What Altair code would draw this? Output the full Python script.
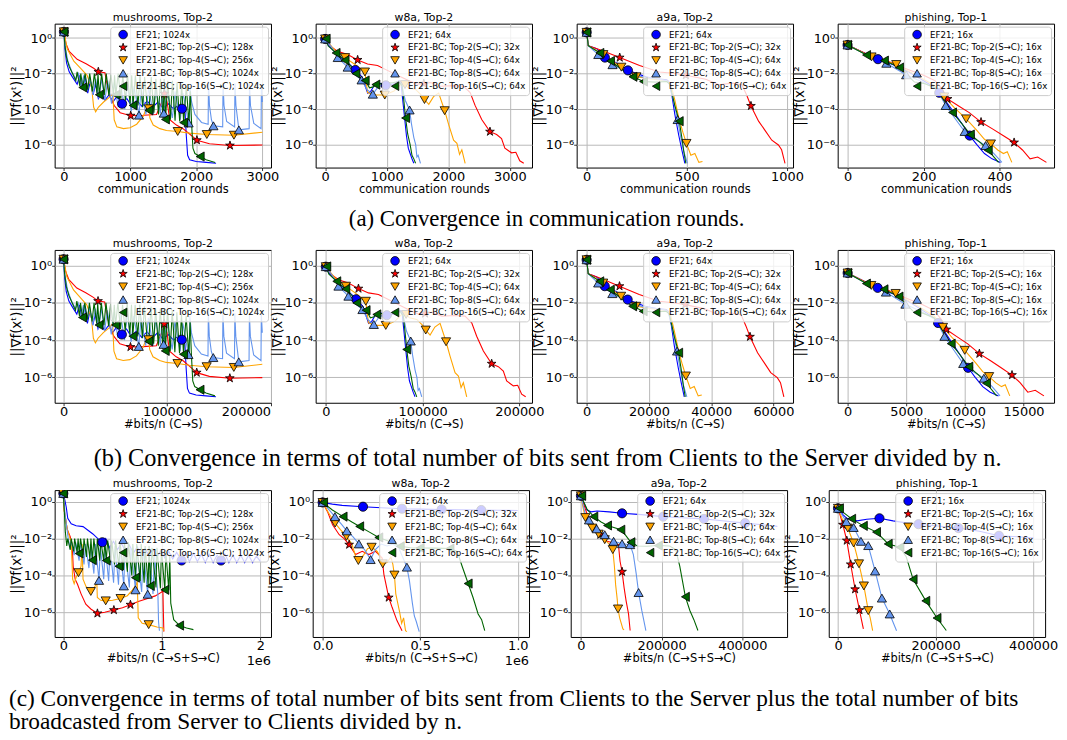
import altair as alt
import pandas as pd

# ------------------------------------------------------------------
# Values.  x = communication rounds (rows a, b)
# or #bits/n (row c); y = log10(||grad f(x^t)||^2)
# ------------------------------------------------------------------

# ---- mushrooms (rounds) ----
mush_ef21 = [(0, 0.35), (15, -0.6), (40, -1.4), (80, -1.9), (130, -2.2), (200, -2.6), (240, -2.1), (280, -2.9),
             (320, -2.2), (360, -3.1), (400, -2.4), (440, -3.2), (480, -2.6), (520, -3.4), (560, -3.1), (620, -3.5),
             (680, -3.2), (740, -3.6), (800, -3.3), (880, -3.7), (950, -3.4), (1020, -3.8), (1100, -3.5),
             (1180, -3.85), (1260, -3.55), (1340, -3.9), (1420, -3.6), (1500, -3.95), (1580, -3.7), (1660, -4.0),
             (1740, -3.75), (1785, -3.98), (1830, -4.1), (1850, -5.5), (1870, -6.6), (1900, -6.85), (2000, -6.95),
             (2150, -7.0), (2300, -7.05)]
mush_ef21_m = [(0, 0.35), (880, -3.7), (1785, -3.98)]
mush_t2 = [(0, 0.35), (30, -0.3), (80, -0.75), (200, -1.2), (335, -1.45), (450, -1.7), (520, -1.9), (620, -1.95),
           (650, -2.6), (700, -3.3), (760, -3.8), (850, -4.2), (1010, -4.37), (1200, -4.35), (1400, -4.3),
           (1480, -3.6), (1520, -3.13), (1560, -3.6), (1600, -4.6), (1700, -4.9), (1800, -5.1), (1900, -5.4),
           (2010, -5.75), (2200, -5.95), (2510, -6.05), (3000, -6.02)]
mush_t2_m = [(0, 0.35), (520, -1.9), (1010, -4.37), (1520, -3.13), (2010, -5.75), (2510, -6.05)]
mush_t4 = [(0, 0.35), (50, -0.6), (150, -1.3), (250, -1.7), (350, -2.1), (420, -2.8), (450, -3.9), (480, -4.15),
           (520, -3.9), (600, -3.6), (700, -3.3), (740, -3.1), (760, -4.6), (800, -5.0), (900, -5.1), (1000, -5.05),
           (1100, -4.85), (1200, -4.4), (1250, -3.9), (1285, -3.98), (1300, -4.5), (1350, -4.9), (1450, -5.1),
           (1550, -5.2), (1720, -5.26), (1900, -5.35), (2160, -5.43), (2570, -5.47), (3000, -5.3)]
mush_t4_m = [(0, 0.35), (1285, -3.98), (1720, -5.26), (2160, -5.43), (2570, -5.47)]
mush_t8 = [(0, 0.35), (20, -0.5), (60, -1.3), (120, -1.9), (180, -2.3), (220, -2.0), (260, -2.8), (300, -2.1),
           (350, -3.0), (390, -2.2), (440, -3.2), (480, -2.3), (530, -3.4), (570, -2.3), (620, -3.5), (660, -2.4),
           (720, -3.7), (760, -2.5), (820, -3.9), (860, -2.6), (920, -4.0), (960, -2.6), (1020, -4.1), (1060, -2.7),
           (1135, -4.34), (1170, -2.8), (1240, -4.3), (1280, -2.8), (1350, -4.3), (1390, -2.9), (1460, -4.25),
           (1480, -3.2), (1510, -4.23), (1560, -3.0), (1640, -4.5), (1680, -3.0), (1760, -4.6), (1800, -3.1),
           (1885, -4.78), (1900, -4.8), (1905, -2.7), (1930, -3.6), (1980, -4.3), (2080, -4.75), (2180, -4.85),
           (2185, -2.45), (2200, -3.8), (2230, -4.6), (2260, -4.94), (2400, -5.0), (2405, -2.5), (2420, -3.8),
           (2460, -4.7), (2580, -5.0), (2585, -2.55), (2600, -3.8), (2645, -5.17), (2800, -5.1), (2805, -2.6),
           (2820, -3.8), (2870, -4.8), (2980, -5.1), (2985, -2.6), (3000, -3.6)]
mush_t8_m = [(0, 0.35), (1135, -4.34), (1510, -4.23), (1885, -4.78), (2260, -4.94), (2645, -5.17)]
mush_t16 = [(0, 0.35), (15, -0.4), (40, -1.1), (80, -1.6), (130, -2.0), (180, -2.4), (200, -1.9), (240, -2.7),
            (255, -2.0), (285, -2.78), (320, -2.0), (360, -2.9), (390, -2.0), (430, -3.0), (460, -2.0), (500, -3.1),
            (515, -2.0), (535, -3.19), (570, -2.0), (610, -3.2), (640, -2.0), (680, -3.25), (710, -2.05),
            (750, -3.2), (765, -2.1), (785, -3.19), (820, -2.0), (860, -3.4), (890, -2.1), (930, -3.5), (960, -2.0),
            (1000, -3.7), (1025, -2.1), (1045, -3.79), (1080, -2.1), (1120, -3.8), (1150, -2.1), (1190, -3.9),
            (1220, -2.2), (1265, -4.07), (1285, -4.07), (1320, -2.2), (1360, -4.2), (1390, -2.3), (1430, -4.3),
            (1460, -2.3), (1500, -4.5), (1515, -2.3), (1535, -4.58), (1570, -2.4), (1610, -4.6), (1640, -2.4),
            (1680, -4.65), (1710, -2.5), (1750, -4.7), (1780, -2.6), (1810, -4.76), (1850, -2.7), (1890, -4.8),
            (1910, -3.0), (1930, -4.8), (1950, -6.2), (1980, -6.5), (2060, -6.67), (2150, -6.85), (2285, -7.0)]
mush_t16_m = [(0, 0.35), (285, -2.78), (535, -3.19), (785, -3.19), (1045, -3.79), (1285, -4.07), (1535, -4.58),
              (1810, -4.76), (2060, -6.67)]

# ---- w8a (rounds) ----
w8a_ef21 = [(0, -0.05), (50, -0.4), (150, -0.75), (250, -1.1), (350, -1.35), (420, -1.55), (520, -1.9),
            (600, -2.2), (650, -2.7), (690, -3.1), (740, -3.0), (790, -2.7), (850, -2.5), (985, -2.66),
            (1100, -2.6), (1200, -2.4), (1230, -2.5), (1260, -3.5), (1290, -4.5), (1320, -5.5), (1350, -6.2),
            (1380, -6.5), (1410, -6.8), (1440, -7.05)]
w8a_ef21_m = [(0, -0.05), (490, -1.8), (985, -2.66)]
w8a_t2 = [(0, -0.05), (100, -0.5), (204, -0.75), (365, -0.93), (527, -1.23), (688, -1.46), (850, -1.55),
          (1010, -1.82), (1225, -2.18), (1387, -2.45), (1500, -2.6), (1602, -2.57), (1710, -2.5), (1871, -2.71),
          (2086, -2.68), (2247, -2.71), (2355, -3.07), (2435, -3.79), (2543, -4.59), (2677, -5.27), (2785, -5.43),
          (2865, -5.66), (2919, -6.2), (3027, -6.46), (3097, -6.43), (3161, -6.91), (3226, -7.05)]
w8a_t2_m = [(0, -0.05), (527, -1.23), (1602, -2.57), (2677, -5.27)]
w8a_t4 = [(0, -0.05), (150, -0.66), (323, -1.1), (473, -1.46), (645, -1.91), (688, -3.07), (796, -3.21),
          (968, -3.21), (1118, -2.98), (1225, -2.62), (1296, -2.62), (1350, -2.8), (1468, -2.89), (1575, -3.25),
          (1613, -3.46), (1683, -3.73), (1760, -3.3), (1844, -3.1), (1941, -4.09), (2005, -4.86), (2086, -5.75),
          (2140, -5.93), (2183, -6.55), (2220, -6.29), (2274, -7.05)]
w8a_t4_m = [(0, -0.05), (323, -1.1), (645, -1.91), (968, -3.21), (1296, -2.62), (1613, -3.46), (1941, -4.09)]
w8a_t8 = [(0, -0.05), (100, -0.5), (204, -1.1), (365, -1.64), (500, -2.1), (591, -2.36), (680, -2.9),
          (774, -3.16), (850, -2.8), (950, -2.6), (1100, -2.55), (1200, -2.5), (1250, -2.7), (1300, -3.5),
          (1371, -4.05), (1400, -4.8), (1440, -5.6), (1470, -6.0), (1490, -6.7), (1510, -6.6), (1548, -7.05)]
w8a_t8_m = [(0, -0.05), (204, -1.1), (365, -1.64), (591, -2.36), (774, -3.16), (1371, -4.05)]
w8a_t16 = [(0, -0.05), (50, -0.45), (177, -0.84), (323, -1.25), (420, -1.6), (500, -2.0), (580, -2.25),
           (650, -2.39), (720, -2.8), (780, -2.75), (823, -2.62), (950, -2.55), (1107, -2.5), (1200, -2.45),
           (1250, -2.7), (1280, -3.6), (1306, -4.5), (1340, -5.4), (1380, -6.0), (1410, -6.6), (1440, -6.8),
           (1468, -7.05)]
w8a_t16_m = [(16, -0.04), (177, -0.84), (323, -1.25), (500, -2.0), (650, -2.39), (823, -2.62), (1306, -4.5)]

# ---- a9a (rounds) ----
a9a_ef21 = [(0, 0.32), (8, -0.43), (50, -0.6), (91, -1.1), (150, -1.4), (206, -1.82), (250, -2.0), (300, -2.2),
            (350, -2.3), (400, -2.35), (410, -2.45), (425, -3.2), (440, -4.3), (460, -5.5), (475, -6.3),
            (490, -7.05)]
a9a_ef21_m = [(0, 0.32), (91, -1.1), (206, -1.82)]
a9a_t2 = [(0, 0.32), (8, -0.43), (66, -0.66), (165, -1.1), (264, -1.55), (363, -1.91), (445, -2.0), (495, -2.09),
          (594, -2.32), (660, -2.63), (726, -2.54), (775, -2.63), (800, -3.25), (820, -3.82), (858, -4.68),
          (891, -5.21), (924, -5.75), (957, -6.02), (973, -6.29), (990, -7.05)]
a9a_t2_m = [(0, 0.32), (165, -1.1), (495, -2.09), (820, -3.82)]
a9a_t4 = [(0, 0.32), (8, -0.43), (83, -0.93), (173, -1.64), (248, -2.18), (320, -2.3), (400, -2.4), (420, -2.6),
          (440, -3.5), (460, -4.5), (480, -5.3), (498, -5.93), (520, -6.6), (540, -6.5), (560, -7.0), (578, -6.95)]
a9a_t4_m = [(0, 0.32), (83, -0.93), (173, -1.64), (248, -2.18), (498, -5.93)]
a9a_t8 = [(0, 0.32), (8, -0.43), (58, -0.93), (129, -1.5), (200, -1.9), (280, -2.2), (350, -2.3), (400, -2.4),
          (415, -2.6), (435, -3.6), (454, -4.59), (470, -5.6), (485, -6.4), (503, -7.05)]
a9a_t8_m = [(0, 0.32), (58, -0.93), (129, -1.5), (454, -4.59)]
a9a_t16 = [(0, 0.32), (8, -0.43), (66, -0.84), (119, -1.29), (180, -1.8), (231, -2.18), (284, -2.45),
           (343, -2.48), (400, -2.45), (415, -2.6), (440, -3.8), (462, -4.68), (475, -5.6), (485, -6.4),
           (495, -7.05)]
a9a_t16_m = [(0, 0.32), (66, -0.84), (119, -1.29), (231, -2.18), (284, -2.45), (462, -4.68)]

# ---- phishing (rounds) ----
ph_ef21 = [(0, -0.39), (40, -0.8), (80, -1.19), (120, -1.5), (160, -1.9), (200, -2.4), (230, -2.8), (241, -3.08),
           (260, -3.6), (280, -4.2), (300, -4.8), (321, -5.49), (340, -6.0), (360, -6.5), (380, -6.8), (402, -7.0)]
ph_ef21_m = [(0, -0.39), (80, -1.19), (241, -3.08), (321, -5.49)]
ph_t2 = [(0, -0.39), (50, -0.9), (100, -1.25), (150, -1.7), (200, -2.1), (230, -2.4), (250, -2.9), (263, -3.43),
         (290, -3.8), (320, -4.2), (351, -4.73), (380, -5.1), (410, -5.5), (438, -5.88), (460, -6.3), (480, -6.8),
         (500, -6.7), (523, -7.0)]
ph_t2_m = [(0, -0.39), (263, -3.43), (351, -4.73), (438, -5.88)]
ph_t4 = [(0, -0.39), (63, -1.06), (128, -1.49), (190, -2.2), (230, -2.7), (254, -3.31), (280, -3.9), (312, -4.55),
         (340, -5.2), (360, -5.7), (377, -5.96), (395, -6.3), (410, -6.5), (420, -6.4), (432, -7.0)]
ph_t4_m = [(0, -0.39), (63, -1.06), (128, -1.49), (254, -3.31), (312, -4.55), (377, -5.96)]
ph_t8 = [(0, -0.39), (50, -0.95), (102, -1.42), (154, -2.07), (200, -2.5), (235, -2.9), (258, -3.8), (285, -4.6),
         (308, -5.26), (335, -5.7), (363, -6.05), (385, -6.5), (406, -7.0)]
ph_t8_m = [(0, -0.39), (102, -1.42), (154, -2.07), (258, -3.8), (308, -5.26), (363, -6.05)]
ph_t16 = [(0, -0.39), (50, -0.96), (97, -1.27), (137, -1.66), (176, -2.48), (200, -2.55), (230, -2.8),
          (250, -3.4), (276, -4.19), (300, -4.8), (323, -5.43), (350, -5.9), (370, -6.32), (397, -7.0)]
ph_t16_m = [(0, -0.39), (50, -0.96), (97, -1.27), (137, -1.66), (276, -4.19), (323, -5.43), (370, -6.32)]

# bits sent per round from clients to server (row b)
BITS_MUSH, BITS_W8A, BITS_A9A, BITS_PH = 64, 64, 64, 32

# ---- row c: #bits/n (C->S + S->C) ----
mush3_ef21 = [(0, 0.45), (15e3, 0.1), (30e3, -0.3), (45e3, -0.9), (80e3, -1.2), (130e3, -1.3), (200e3, -1.35),
              (250e3, -1.55), (300e3, -1.75), (340e3, -1.95), (396e3, -2.2), (430e3, -2.0), (470e3, -2.5),
              (510e3, -2.15), (550e3, -2.6), (590e3, -2.25), (630e3, -2.7), (670e3, -2.35), (710e3, -2.8),
              (750e3, -2.45), (790e3, -2.9), (830e3, -2.55), (870e3, -2.95), (910e3, -2.6), (950e3, -3.0),
              (990e3, -2.65), (1030e3, -3.05), (1070e3, -2.7), (1110e3, -3.1), (1150e3, -2.75), (1200e3, -3.19),
              (1240e3, -2.8), (1280e3, -3.25), (1320e3, -2.8), (1360e3, -3.25), (1400e3, -2.85), (1440e3, -3.3),
              (1480e3, -2.85), (1520e3, -3.3), (1560e3, -2.9), (1600e3, -3.19), (1640e3, -2.85), (1680e3, -3.3),
              (1720e3, -2.9), (1760e3, -3.3), (1800e3, -2.9), (1840e3, -3.3), (1880e3, -2.9), (1920e3, -3.3),
              (1960e3, -2.95), (2000e3, -3.25)]
mush3_ef21_m = [(0, 0.45), (396e3, -2.2), (1200e3, -3.19), (1600e3, -3.19)]
mush3_t2 = [(0, 0.45), (10e3, -0.5), (40e3, -1.5), (70e3, -1.9), (90e3, -2.3), (100e3, -3.5), (120e3, -4.2),
            (144e3, -4.48), (180e3, -5.0), (228e3, -5.56), (279e3, -5.82), (346e3, -6.06), (420e3, -6.0),
            (513e3, -5.88), (600e3, -5.75), (681e3, -5.59), (760e3, -5.42), (832e3, -5.29), (933e3, -5.11),
            (1000e3, -4.9), (1010e3, -4.7), (1015e3, -6.0), (1020e3, -7.05)]
mush3_t2_m = [(0, 0.45), (346e3, -6.06), (513e3, -5.88), (681e3, -5.59)]
mush3_t4 = [(0, 0.45), (10e3, -0.5), (40e3, -1.5), (80e3, -2.2), (95e3, -4.2), (110e3, -4.45), (130e3, -4.1),
            (154e3, -3.85), (180e3, -3.5), (190e3, -2.3), (200e3, -4.2), (230e3, -4.6), (279e3, -4.87),
            (320e3, -4.6), (340e3, -4.4), (345e3, -5.2), (380e3, -5.35), (430e3, -5.38), (500e3, -5.35),
            (581e3, -5.25), (650e3, -5.1), (700e3, -4.8), (740e3, -4.5), (750e3, -4.3), (760e3, -6.3),
            (800e3, -6.6), (866e3, -6.67), (950e3, -6.8), (1010e3, -6.85), (1020e3, -7.0)]
mush3_t4_m = [(0, 0.45), (154e3, -3.85), (279e3, -4.87), (430e3, -5.38), (581e3, -5.25), (866e3, -6.67)]
mush3_t8 = [(0, 0.45), (20e3, -0.8), (50e3, -2.0), (70e3, -2.6), (80e3, -2.1), (110e3, -2.9), (125e3, -2.2),
            (160e3, -3.2), (175e3, -2.2), (210e3, -3.4), (225e3, -2.3), (260e3, -3.6), (275e3, -2.3),
            (310e3, -3.9), (325e3, -2.3), (362e3, -4.27), (375e3, -2.4), (410e3, -4.2), (425e3, -2.4),
            (460e3, -4.3), (475e3, -2.4), (510e3, -4.4), (525e3, -2.4), (560e3, -4.5), (575e3, -2.5),
            (614e3, -4.57), (625e3, -2.5), (670e3, -4.65), (685e3, -2.5), (732e3, -4.78), (745e3, -2.6),
            (795e3, -4.9), (810e3, -2.6), (856e3, -5.02), (870e3, -2.7), (910e3, -5.0), (925e3, -2.8),
            (960e3, -5.1), (966e3, -6.5), (975e3, -7.0)]
mush3_t8_m = [(0, 0.45), (362e3, -4.27), (614e3, -4.57), (732e3, -4.78), (856e3, -5.02)]
mush3_t16 = [(0, 0.45), (10e3, -0.5), (20e3, -1.6), (35e3, -2.4), (45e3, -2.0), (70e3, -2.6), (80e3, -2.0),
             (105e3, -2.7), (115e3, -2.0), (140e3, -2.75), (150e3, -2.0), (161e3, -2.81), (175e3, -2.0),
             (200e3, -2.9), (210e3, -2.0), (235e3, -3.0), (245e3, -2.0), (270e3, -3.1), (280e3, -2.0),
             (295e3, -3.17), (310e3, -2.0), (335e3, -3.2), (345e3, -2.0), (370e3, -3.2), (380e3, -2.1),
             (410e3, -3.2), (420e3, -2.1), (436e3, -3.19), (450e3, -2.1), (480e3, -3.3), (490e3, -2.1),
             (520e3, -3.4), (530e3, -2.1), (564e3, -3.5), (575e3, -2.2), (610e3, -3.7), (620e3, -2.2),
             (650e3, -3.8), (660e3, -2.2), (695e3, -4.0), (705e3, -2.3), (732e3, -4.12), (745e3, -2.3),
             (780e3, -4.3), (790e3, -2.3), (820e3, -4.4), (830e3, -2.4), (860e3, -4.5), (870e3, -2.4),
             (883e3, -4.57), (900e3, -2.5), (940e3, -4.65), (950e3, -2.5), (985e3, -4.7), (995e3, -2.6),
             (1030e3, -4.78), (1040e3, -2.7), (1070e3, -4.8), (1080e3, -2.9), (1090e3, -5.5), (1120e3, -6.4),
             (1180e3, -6.72), (1250e3, -6.85), (1320e3, -6.94)]
mush3_t16_m = [(0, 0.45), (161e3, -2.81), (295e3, -3.17), (436e3, -3.19), (564e3, -3.5), (732e3, -4.12),
               (883e3, -4.57), (1030e3, -4.78), (1180e3, -6.72)]

w8a3_ef21 = [(0, -0.04), (50e3, -0.13), (100e3, -0.2), (207e3, -0.27), (300e3, -0.33), (407e3, -0.38),
             (500e3, -0.4), (610e3, -0.42), (700e3, -0.44), (813e3, -0.45), (900e3, -0.46), (1000e3, -0.48)]
w8a3_ef21_m = [(0, -0.04), (207e3, -0.27), (407e3, -0.38), (610e3, -0.42), (813e3, -0.45)]
w8a3_t2 = [(0, -0.04), (25e3, -0.54), (51e3, -1.25), (85e3, -1.79), (110e3, -2.0), (136e3, -2.33),
           (169e3, -2.87), (203e3, -2.69), (237e3, -2.87), (271e3, -2.69), (305e3, -3.05), (314e3, -3.94),
           (339e3, -5.2), (356e3, -5.73), (381e3, -6.45), (407e3, -7.0)]
w8a3_t2_m = [(0, -0.04), (136e3, -2.33), (339e3, -5.2)]
w8a3_t4 = [(0, -0.04), (30e3, -0.6), (64e3, -1.16), (90e3, -1.5), (122e3, -1.88), (150e3, -2.3), (170e3, -3.0),
           (183e3, -3.19), (210e3, -2.9), (230e3, -2.55), (251e3, -2.47), (280e3, -2.7), (300e3, -3.1),
           (308e3, -3.37), (330e3, -3.3), (350e3, -3.0), (360e3, -3.4), (368e3, -3.98), (375e3, -5.0),
           (385e3, -5.5), (395e3, -6.0), (405e3, -6.6), (415e3, -6.3), (425e3, -7.0), (432e3, -7.05)]
w8a3_t4_m = [(0, -0.04), (64e3, -1.16), (122e3, -1.88), (183e3, -3.19), (251e3, -2.47), (308e3, -3.37),
             (368e3, -3.98)]
w8a3_t8 = [(0, -0.04), (30e3, -0.4), (63e3, -0.81), (95e3, -1.2), (124e3, -1.58), (155e3, -1.9), (186e3, -2.29),
           (215e3, -2.6), (246e3, -3.14), (270e3, -2.6), (300e3, -2.3), (330e3, -2.4), (360e3, -2.3),
           (390e3, -2.5), (410e3, -3.0), (432e3, -3.55), (445e3, -4.3), (460e3, -5.5), (470e3, -6.2),
           (480e3, -6.5), (495e3, -7.05)]
w8a3_t8_m = [(0, -0.04), (63e3, -0.81), (124e3, -1.58), (186e3, -2.29), (246e3, -3.14), (432e3, -3.55)]
w8a3_t16 = [(0, -0.04), (50e3, -0.45), (105e3, -0.81), (150e3, -1.1), (190e3, -1.34), (240e3, -1.65),
            (288e3, -1.94), (340e3, -2.15), (398e3, -2.42), (450e3, -2.5), (500e3, -2.51), (580e3, -2.52),
            (653e3, -2.54), (690e3, -2.7), (715e3, -3.5), (746e3, -4.44), (771e3, -5.2), (797e3, -6.09),
            (815e3, -6.4), (831e3, -6.99)]
w8a3_t16_m = [(5e3, -0.04), (105e3, -0.81), (190e3, -1.34), (288e3, -1.94), (398e3, -2.42), (500e3, -2.51),
              (653e3, -2.54), (746e3, -4.44)]

a9a3_ef21 = [(0, 0.32), (8e3, -0.1), (15e3, -0.45), (25e3, -0.55), (40e3, -0.5), (70e3, -0.55), (102e3, -0.63),
             (150e3, -0.7), (204e3, -0.81), (250e3, -0.87), (305e3, -0.93), (350e3, -1.03), (407e3, -1.16),
             (450e3, -1.25), (487e3, -1.34)]
a9a3_ef21_m = [(0, 0.32), (102e3, -0.63), (204e3, -0.81), (305e3, -0.93), (407e3, -1.16)]
a9a3_t2 = [(0, 0.32), (16e3, -0.72), (32e3, -1.52), (48e3, -1.79), (65e3, -2.15), (81e3, -2.24), (93e3, -2.33),
           (97e3, -3.23), (102e3, -3.8), (107e3, -4.66), (112e3, -5.38), (118e3, -6.09), (122e3, -6.99)]
a9a3_t2_m = [(0, 0.32), (48e3, -1.79), (102e3, -3.8)]
a9a3_t4 = [(0, 0.32), (5e3, -0.3), (11e3, -0.86), (20e3, -1.2), (28e3, -1.43), (44e3, -1.76), (59e3, -2.06),
           (70e3, -2.3), (79e3, -2.6), (83e3, -3.5), (86e3, -4.5), (90e3, -5.3), (92e3, -5.82), (96e3, -6.3),
           (100e3, -6.6), (104e3, -6.9), (107e3, -6.95)]
a9a3_t4_m = [(0, 0.32), (11e3, -0.86), (28e3, -1.43), (44e3, -1.76), (59e3, -2.06), (79e3, -2.6), (92e3, -5.82)]
a9a3_t8 = [(0, 0.32), (10e3, -0.6), (20e3, -0.99), (39e3, -1.47), (59e3, -1.79), (81e3, -2.15), (102e3, -2.28),
           (122e3, -2.33), (130e3, -2.87), (137e3, -3.9), (143e3, -4.93), (151e3, -5.91), (161e3, -6.99)]
a9a3_t8_m = [(0, 0.32), (20e3, -0.99), (39e3, -1.47), (59e3, -1.79), (81e3, -2.15), (102e3, -2.28),
             (122e3, -2.33), (143e3, -4.93)]
a9a3_t16 = [(0, 0.32), (15e3, -0.4), (32e3, -0.81), (50e3, -1.1), (66e3, -1.29), (99e3, -1.52), (110e3, -1.8),
            (124e3, -2.2), (140e3, -2.4), (163e3, -2.42), (192e3, -2.38), (220e3, -2.4), (235e3, -2.6),
            (245e3, -3.5), (259e3, -5.16), (270e3, -5.9), (280e3, -6.4), (290e3, -6.99)]
a9a3_t16_m = [(2e3, 0.32), (32e3, -0.81), (66e3, -1.29), (99e3, -1.52), (124e3, -2.2), (192e3, -2.38),
              (259e3, -5.16)]

ph3_ef21 = [(0, -0.36), (10e3, -0.7), (18e3, -0.9), (39e3, -1.04), (59e3, -0.95), (85e3, -0.9), (113e3, -1.04),
            (140e3, -1.15), (165e3, -1.22), (200e3, -1.3), (247e3, -1.43), (290e3, -1.6), (330e3, -1.85),
            (370e3, -1.9), (401e3, -1.97)]
ph3_ef21_m = [(0, -0.36), (85e3, -0.9), (165e3, -1.22), (247e3, -1.43), (330e3, -1.85)]
ph3_t2 = [(0, -0.36), (5e3, -0.8), (10e3, -1.25), (18e3, -2.11), (26e3, -3.4), (35e3, -4.75), (44e3, -5.88),
          (48e3, -6.4), (52e3, -6.9)]
ph3_t2_m = [(0, -0.36), (10e3, -1.25), (18e3, -2.11), (26e3, -3.4), (35e3, -4.75), (44e3, -5.88)]
ph3_t4 = [(0, -0.36), (8e3, -0.9), (20e3, -1.43), (32e3, -2.24), (43e3, -3.37), (53e3, -4.57), (62e3, -5.91),
          (66e3, -6.3), (71e3, -7.0)]
ph3_t4_m = [(0, -0.36), (20e3, -1.43), (32e3, -2.24), (43e3, -3.37), (53e3, -4.57), (62e3, -5.91)]
ph3_t8 = [(0, -0.36), (17e3, -1.08), (32e3, -1.4), (47e3, -2.15), (62e3, -2.38), (76e3, -3.76), (90e3, -5.23),
          (106e3, -6.09), (120e3, -7.0)]
ph3_t8_m = [(0, -0.36), (17e3, -1.08), (32e3, -1.4), (47e3, -2.15), (62e3, -2.38), (76e3, -3.76), (90e3, -5.23),
            (106e3, -6.09)]
ph3_t16 = [(0, -0.36), (28e3, -0.93), (52e3, -1.31), (79e3, -1.65), (103e3, -2.29), (127e3, -2.47),
           (140e3, -3.0), (154e3, -4.21), (180e3, -5.38), (203e3, -6.31), (222e3, -6.99)]
ph3_t16_m = [(3e3, -0.36), (28e3, -0.93), (52e3, -1.31), (79e3, -1.65), (103e3, -2.29), (127e3, -2.47),
             (154e3, -4.21), (180e3, -5.38), (203e3, -6.31)]

LAB_MUSH = ["EF21; 1024x", "EF21-BC; Top-2(S→C); 128x", "EF21-BC; Top-4(S→C); 256x",
            "EF21-BC; Top-8(S→C); 1024x", "EF21-BC; Top-16(S→C); 1024x"]
LAB_64 = ["EF21; 64x", "EF21-BC; Top-2(S→C); 32x", "EF21-BC; Top-4(S→C); 64x",
          "EF21-BC; Top-8(S→C); 64x", "EF21-BC; Top-16(S→C); 64x"]
LAB_PH = ["EF21; 16x", "EF21-BC; Top-2(S→C); 16x", "EF21-BC; Top-4(S→C); 16x",
          "EF21-BC; Top-8(S→C); 16x", "EF21-BC; Top-16(S→C); 16x"]

COLORS = ["#0000ff", "#ff0000", "#ffa500", "#6495ed", "#006400"]
STAR = ("M0,-1L0.2245,-0.309L0.951,-0.309L0.363,0.118L0.588,0.809L0,0.382L-0.588,0.809"
        "L-0.363,0.118L-0.951,-0.309L-0.2245,-0.309Z")
SHAPES = ["circle", STAR, "triangle-down", "triangle-up", "triangle-left"]

YEXPR = ("datum.value > 0.5 ? '10⁰' : datum.value > 0.005 ? '10⁻²' : "
         "datum.value > 0.00005 ? '10⁻⁴' : '10⁻⁶'")
YTITLE = "||∇f(xᵗ)||²"
W = 218


def frames(lines, marks, labels, scale):
    lrows, mrows = [], []
    for lab, pts in zip(labels, lines):
        for i, (x, lg) in enumerate(pts):
            lrows.append({"s": lab, "x": x * scale, "y": 10 ** lg, "i": i})
    for lab, pts in zip(labels, marks):
        for x, lg in pts:
            mrows.append({"s": lab, "x": x * scale, "y": 10 ** lg})
    return pd.DataFrame(lrows), pd.DataFrame(mrows)


def panel(lines, marks, labels, title, xdom, xticks, xtitle, ydom, height, scale=1, div=None, fmt=None):
    ldf, mdf = frames(lines, marks, labels, scale)
    xs = alt.Scale(domain=xdom, nice=False, zero=False)
    ys = alt.Scale(type="log", domain=[10 ** ydom[0], 10 ** ydom[1]], nice=False)
    if div:
        xax = alt.Axis(values=xticks, title=xtitle, labelExpr=f"format(datum.value/{div}, '{fmt}')")
    else:
        xax = alt.Axis(values=xticks, title=xtitle, format="d")
    yax = alt.Axis(values=[1e-6, 1e-4, 1e-2, 1], labelExpr=YEXPR, title=YTITLE)
    cs = alt.Scale(domain=labels, range=COLORS)
    ss = alt.Scale(domain=labels, range=SHAPES)
    # same colour mapping, listed in reverse so that this (legend-less) scale is not merged
    # with the marker legend
    ls = alt.Scale(domain=labels[::-1], range=COLORS[::-1])
    ln = alt.Chart(ldf).mark_line(strokeWidth=1.1, clip=True).encode(
        x=alt.X("x:Q", scale=xs, axis=xax),
        y=alt.Y("y:Q", scale=ys, axis=yax),
        stroke=alt.Stroke("s:N", scale=ls, legend=None),
        order=alt.Order("i:Q"),
    )
    leg = alt.Legend(orient="top-right")
    pt = alt.Chart(mdf).mark_point(filled=True, size=85, stroke="black", strokeWidth=0.8,
                                   opacity=1, clip=True).encode(
        x=alt.X("x:Q", scale=xs),
        y=alt.Y("y:Q", scale=ys),
        color=alt.Color("s:N", scale=cs, title=None, legend=leg),
        shape=alt.Shape("s:N", scale=ss, title=None, legend=leg),
    )
    layers = [ln, pt]
    if div:
        tx = alt.Chart(pd.DataFrame({"t": ["1e6"]})).mark_text(
            align="right", baseline="middle", fontSize=13, color="black").encode(
            x=alt.value(W), y=alt.value(height + 24), text="t:N")
        layers.append(tx)
    return alt.layer(*layers).properties(width=W, height=height, title=title)


def indep(c):
    return c.resolve_scale(color="independent", shape="independent", stroke="independent").resolve_legend(
        color="independent", shape="independent")


H1, H2, H3 = 145, 154, 148
Y1, Y2, Y3 = (-7.29, 0.81), (-7.37, 0.85), (-7.34, 0.63)

S_MUSH = [mush_ef21, mush_t2, mush_t4, mush_t8, mush_t16]
M_MUSH = [mush_ef21_m, mush_t2_m, mush_t4_m, mush_t8_m, mush_t16_m]
S_W8A = [w8a_ef21, w8a_t2, w8a_t4, w8a_t8, w8a_t16]
M_W8A = [w8a_ef21_m, w8a_t2_m, w8a_t4_m, w8a_t8_m, w8a_t16_m]
S_A9A = [a9a_ef21, a9a_t2, a9a_t4, a9a_t8, a9a_t16]
M_A9A = [a9a_ef21_m, a9a_t2_m, a9a_t4_m, a9a_t8_m, a9a_t16_m]
S_PH = [ph_ef21, ph_t2, ph_t4, ph_t8, ph_t16]
M_PH = [ph_ef21_m, ph_t2_m, ph_t4_m, ph_t8_m, ph_t16_m]

CR = "communication rounds"
row1 = [
    panel(S_MUSH, M_MUSH, LAB_MUSH, "mushrooms, Top-2", [-140, 3130], [0, 1000, 2000, 3000], CR, Y1, H1),
    panel(S_W8A, M_W8A, LAB_64, "w8a, Top-2", [-155, 3360], [0, 1000, 2000, 3000], CR, Y1, H1),
    panel(S_A9A, M_A9A, LAB_64, "a9a, Top-2", [-50, 1030], [0, 500, 1000], CR, Y1, H1),
    panel(S_PH, M_PH, LAB_PH, "phishing, Top-1", [-26, 543], [0, 200, 400], CR, Y1, H1),
]
CS = "#bits/n (C→S)"
row2 = [
    panel(S_MUSH, M_MUSH, LAB_MUSH, "mushrooms, Top-2", [-8640, 200400], [0, 100000, 200000], CS, Y2, H2,
          scale=BITS_MUSH),
    panel(S_W8A, M_W8A, LAB_64, "w8a, Top-2", [-10500, 213000], [0, 100000, 200000], CS, Y2, H2,
          scale=BITS_W8A),
    panel(S_A9A, M_A9A, LAB_64, "a9a, Top-2", [-3200, 66300], [0, 20000, 40000, 60000], CS, Y2, H2,
          scale=BITS_A9A),
    panel(S_PH, M_PH, LAB_PH, "phishing, Top-1", [-850, 17600], [0, 5000, 10000, 15000], CS, Y2, H2,
          scale=BITS_PH),
]
CSSC = "#bits/n (C→S+S→C)"
row3 = [
    panel([mush3_ef21, mush3_t2, mush3_t4, mush3_t8, mush3_t16],
          [mush3_ef21_m, mush3_t2_m, mush3_t4_m, mush3_t8_m, mush3_t16_m], LAB_MUSH, "mushrooms, Top-2",
          [-88000, 2107000], [0, 1000000, 2000000], CSSC, Y3, H3, div=1000000, fmt=".0f"),
    panel([w8a3_ef21, w8a3_t2, w8a3_t4, w8a3_t8, w8a3_t16],
          [w8a3_ef21_m, w8a3_t2_m, w8a3_t4_m, w8a3_t8_m, w8a3_t16_m], LAB_64, "w8a, Top-2",
          [-51000, 1058000], [0, 500000, 1000000], CSSC, Y3, H3, div=1000000, fmt=".1f"),
    panel([a9a3_ef21, a9a3_t2, a9a3_t4, a9a3_t8, a9a3_t16],
          [a9a3_ef21_m, a9a3_t2_m, a9a3_t4_m, a9a3_t8_m, a9a3_t16_m], LAB_64, "a9a, Top-2",
          [-25300, 511000], [0, 200000, 400000], CSSC, Y3, H3),
    panel([ph3_ef21, ph3_t2, ph3_t4, ph3_t8, ph3_t16],
          [ph3_ef21_m, ph3_t2_m, ph3_t4_m, ph3_t8_m, ph3_t16_m], LAB_PH, "phishing, Top-1",
          [-19000, 424600], [0, 200000, 400000], CSSC, Y3, H3),
]

CAP_A = "(a) Convergence in communication rounds."
CAP_B = "(b) Convergence in terms of total number of bits sent from Clients to the Server divided by n."
CAP_C = ["(c) Convergence in terms of total number of bits sent from Clients to the Server plus the total number of bits",
         "broadcasted from Server to Clients divided by n."]


def cap(text, offset, size, anchor="middle", dx=0, lh=22):
    return alt.TitleParams(text=text, orient="bottom", anchor=anchor, font="Liberation Serif", fontSize=size,
                           fontWeight="normal", offset=offset, dx=dx, color="black", lineHeight=lh)


r1 = indep(alt.hconcat(*row1, spacing=45, bounds="flush", title=cap(CAP_A, 13, 23, dx=15)))
r2 = indep(alt.hconcat(*row2, spacing=45, bounds="flush", title=cap(CAP_B, 17, 24.5, dx=16)))
r3 = indep(alt.hconcat(*row3, spacing=42, bounds="flush", title=cap(CAP_C, 19, 23.5, anchor="start", lh=23)))

chart = indep(alt.vconcat(r1, r2, r3, spacing=6)).properties(padding=0).configure(
    font="DejaVu Sans"
).configure_view(
    stroke="black", strokeWidth=1
).configure_axis(
    domain=False, grid=True, gridColor="#b8b8b8", gridWidth=1, tickColor="black", tickSize=3,
    tickWidth=0.8, labelColor="black", titleColor="black", labelFontSize=13, titleFontSize=11.5,
    titleFontWeight="normal", labelPadding=0, titlePadding=0
).configure_axisY(
    titleFontSize=13.5
).configure_title(
    fontSize=11, fontWeight="normal", offset=1, color="black"
).configure_legend(
    offset=3, padding=3, fillColor="rgba(255,255,255,0.8)", strokeColor="#cccccc", cornerRadius=3,
    labelFontSize=8.7, symbolSize=75, rowPadding=1, symbolStrokeColor="black", symbolStrokeWidth=0.8,
    labelLimit=300, labelColor="black", symbolOffset=5, labelOffset=8
)

chart.save("out.html", embed_options={"renderer": "svg", "actions": False})
